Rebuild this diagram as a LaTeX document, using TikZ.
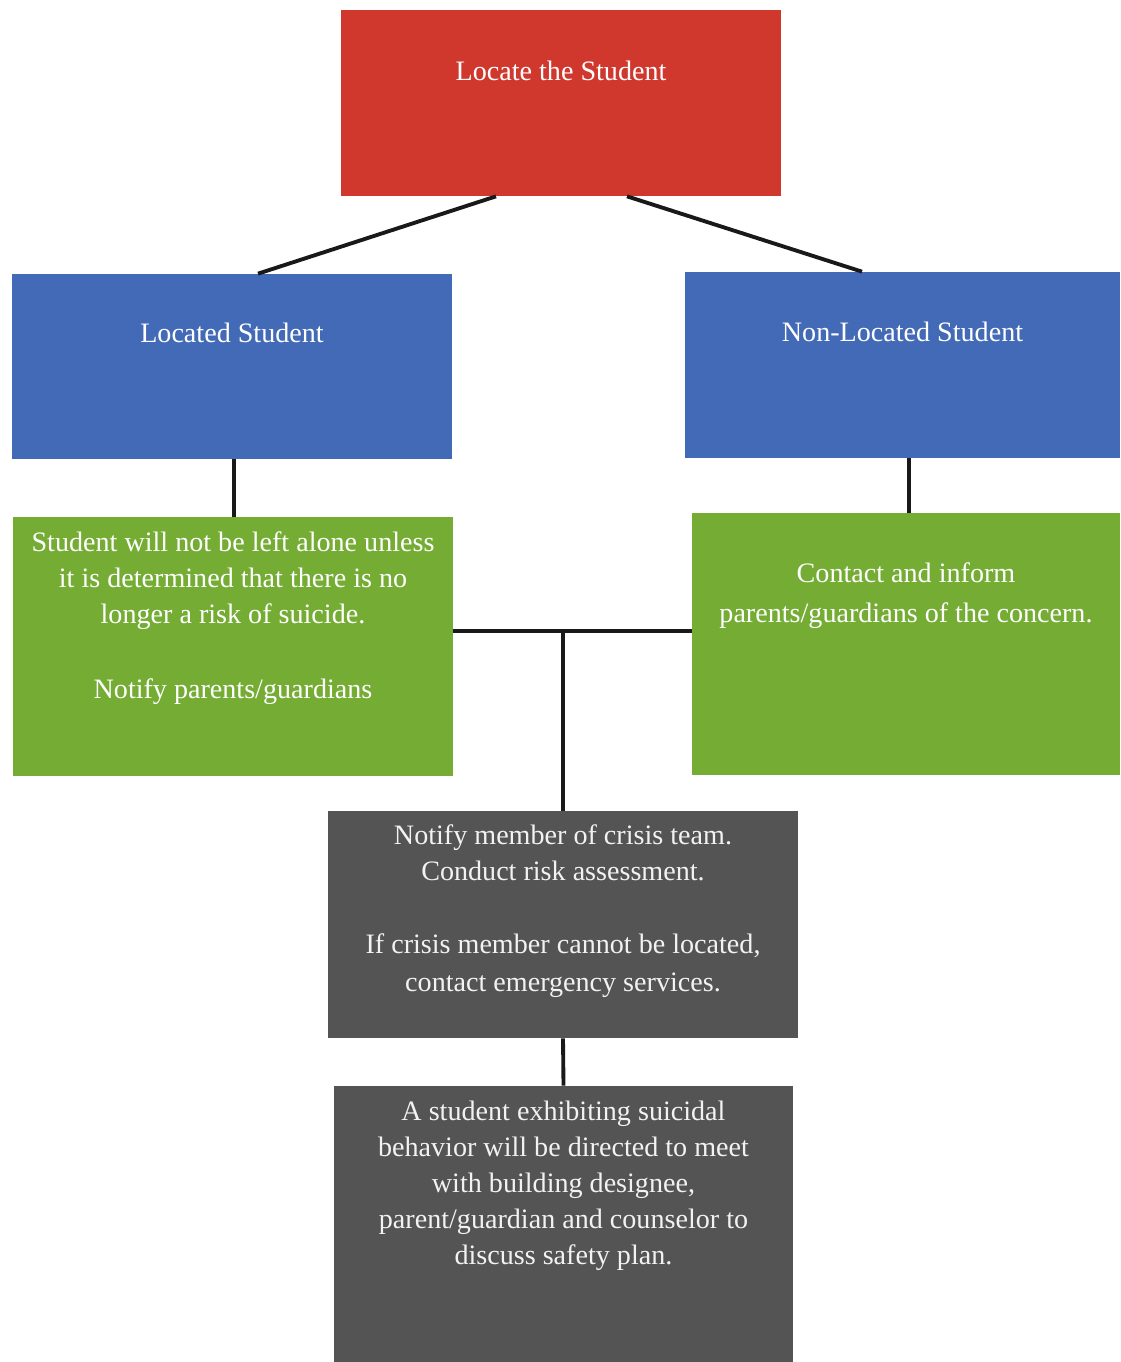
\documentclass[tikz,border=0pt]{standalone}
\usepackage{fontspec}
\setmainfont{Liberation Serif}
\usetikzlibrary{positioning}

\definecolor{rosso}{RGB}{208,56,46}
\definecolor{blu}{RGB}{66,106,182}
\definecolor{verde}{RGB}{116,172,52}
\definecolor{grigio}{RGB}{84,84,84}

\tikzset{
    box/.style={rectangle, inner sep=0pt},
    testo/.style={text=white, align=center, inner sep=0pt, font=\fontsize{16}{20.5}\selectfont},
    link/.style={line width=2.2pt, black!90}
}

\begin{document}
\begin{tikzpicture}[x=0.02cm, y=-0.02cm]
    % Area del disegno
    \useasboundingbox (0,0) rectangle (1120,1362);

    % Riquadro iniziale
    \node[box, fill=rosso, minimum width=8.8cm, minimum height=3.72cm] (locate) at (561,103) {};
    \node[testo, below=1.02cm of locate.north] (locateT) {Locate the Student};

    % Riquadri blu
    \node[box, fill=blu, minimum width=8.8cm, minimum height=3.7cm] (located) at (232,366.5) {};
    \node[testo, below=0.98cm of located.north] (locatedT) {Located Student};
    \node[box, fill=blu, minimum width=8.7cm, minimum height=3.72cm] (nonloc) at (902.5,365) {};
    \node[testo, below=1.0cm of nonloc.north] (nonlocT) {Non-Located Student};

    % Riquadri verdi
    \node[box, fill=verde, minimum width=8.8cm, minimum height=5.18cm] (stay) at (233,646.5) {};
    \node[testo, below=0.3cm of stay.north] (stayT) {Student will not be left alone unless\\
        it is determined that there is no\\ longer a risk of suicide.\\[22pt]
        Notify parents/guardians};
    \node[box, fill=verde, minimum width=8.56cm, minimum height=5.24cm] (contact) at (906,644) {};
    \node[testo, below=1.0cm of contact.north] (contactT) {Contact and inform\\[2pt]
        parents/guardians of the concern.};

    % Riquadri grigi
    \node[box, fill=grigio, minimum width=9.4cm, minimum height=4.54cm] (crisis) at (563,924.5) {};
    \node[testo, text=white!95!black, below=0.28cm of crisis.north] (crisisT) {Notify member of crisis team.\\
        Conduct risk assessment.\\[21pt]
        If crisis member cannot be located,\\[1pt] contact emergency services.};
    \node[box, fill=grigio, minimum width=9.18cm, minimum height=5.52cm] (plan) at (563.5,1224) {};
    \node[testo, text=white!95!black, below=0.3cm of plan.north] (planT) {A student exhibiting suicidal\\
        behavior will be directed to meet\\ with building designee,\\
        parent/guardian and counselor to\\ discuss safety plan.};

    % Collegamenti
    \coordinate (junc) at (563,631);
    \draw[link] ([xshift=-1.3cm]locate.south) -- ([xshift=0.52cm]located.north);
    \draw[link] ([xshift=1.32cm]locate.south) -- ([xshift=-0.81cm]nonloc.north);
    \draw[link] ([xshift=0.04cm]located.south) -- ([xshift=0.04cm]located.south |- stay.north);
    \draw[link] ([xshift=0.06cm]contact.north |- nonloc.south) -- ([xshift=0.06cm]contact.north);
    \draw[link] (junc -| stay.east) -- (junc -| contact.west);
    \draw[link] (junc) -- (crisis.north);
    \draw[link] (crisis.south) -- (plan.north);
\end{tikzpicture}
\end{document}
